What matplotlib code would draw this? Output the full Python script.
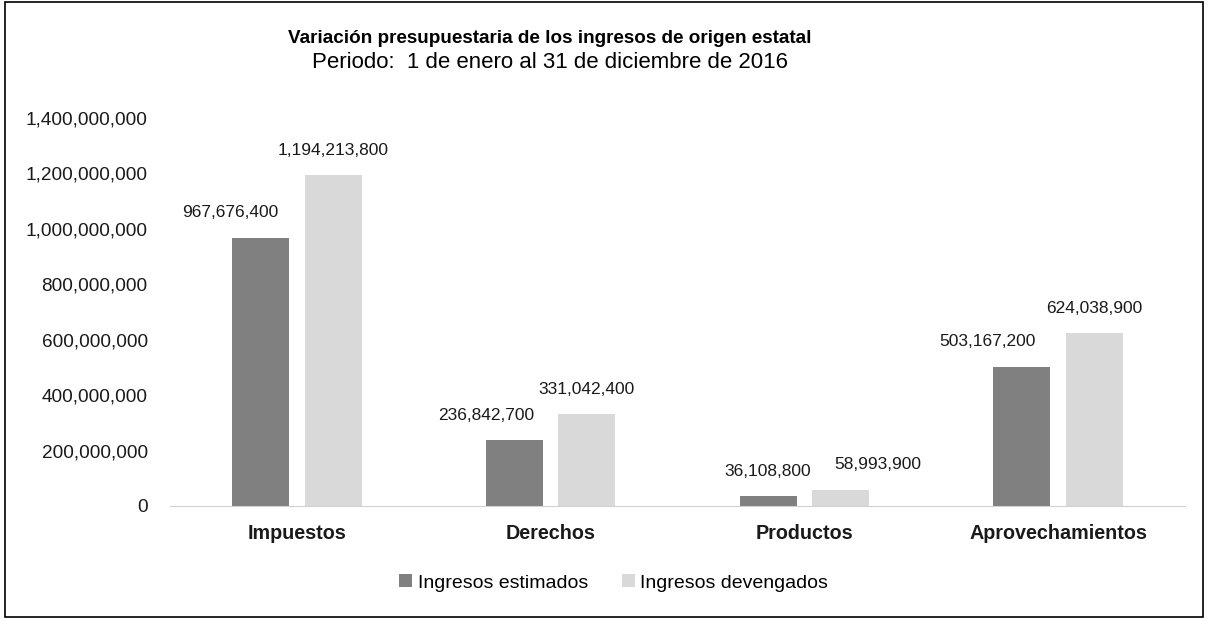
import numpy as np
import matplotlib
matplotlib.use("Agg")
import matplotlib.pyplot as plt
from matplotlib.patches import Rectangle
from matplotlib.ticker import FuncFormatter

plt.rcParams['font.family'] = ['Liberation Sans', 'DejaVu Sans']

# Data
categorias = ['Impuestos', 'Derechos', 'Productos', 'Aprovechamientos']
estimados = [967676400, 236842700, 36108800, 503167200]
devengados = [1194213800, 331042400, 58993900, 624038900]
series_nombres = ['Ingresos estimados', 'Ingresos devengados']
colores = ['#808080', '#d9d9d9']
# horizontal nudges (pt) of the value labels, as placed in the original
nudge_est = [-22, -20, 0, -25]
nudge_dev = [0, 0, 27, 0]

fig = plt.figure(figsize=(12.08, 6.19), dpi=100)
ax = fig.add_axes([0.1407, 0.1826, 0.981 - 0.1407, 0.8094 - 0.1826])

x = np.arange(len(categorias))
w = 0.225
off = 0.143
b1 = ax.bar(x - off, estimados, w, color=colores[0], label=series_nombres[0])
b2 = ax.bar(x + off, devengados, w, color=colores[1], label=series_nombres[1])

for bars, vals, nud in ((b1, estimados, nudge_est), (b2, devengados, nudge_dev)):
    for r, v, n in zip(bars, vals, nud):
        ax.annotate(f'{v:,}', (r.get_x() + r.get_width() / 2, v),
                    xytext=(n, 12.5), textcoords='offset points',
                    ha='center', va='bottom', fontsize=12.5, color='#1a1a1a')

ax.set_xlim(-0.5, len(categorias) - 0.5)
ax.set_ylim(0, 1.4e9)
ax.set_yticks(np.arange(0, 1.41e9, 2e8))
ax.yaxis.set_major_formatter(FuncFormatter(lambda v, p: f'{int(v):,}'))
ax.set_xticks(x)
ax.set_xticklabels(categorias, fontweight='bold')
ax.tick_params(axis='y', length=0, labelsize=13.7, pad=16, colors='#1a1a1a')
ax.tick_params(axis='x', length=0, labelsize=14.2, pad=13, colors='#1a1a1a')
for s in ['top', 'right', 'left']:
    ax.spines[s].set_visible(False)
ax.spines['bottom'].set_color('#d0d0d0')

fig.text(0.455, 0.937, 'Variación presupuestaria de los ingresos de origen estatal',
         ha='center', va='center', fontsize=13.6, fontweight='bold')
fig.text(0.455, 0.899, 'Periodo:  1 de enero al 31 de diciembre de 2016',
         ha='center', va='center', fontsize=16)

fig.legend(handles=[b1, b2], loc='center', bbox_to_anchor=(0.508, 0.058), ncol=2,
           frameon=False, fontsize=14, handlelength=0.65, handleheight=0.65,
           handletextpad=0.3, columnspacing=1.75)

fig.patches.append(Rectangle((0.004, 0.004), 0.992, 0.992, transform=fig.transFigure,
                             fill=False, edgecolor='black', linewidth=1.2))

fig.savefig('out.png', dpi=100)
